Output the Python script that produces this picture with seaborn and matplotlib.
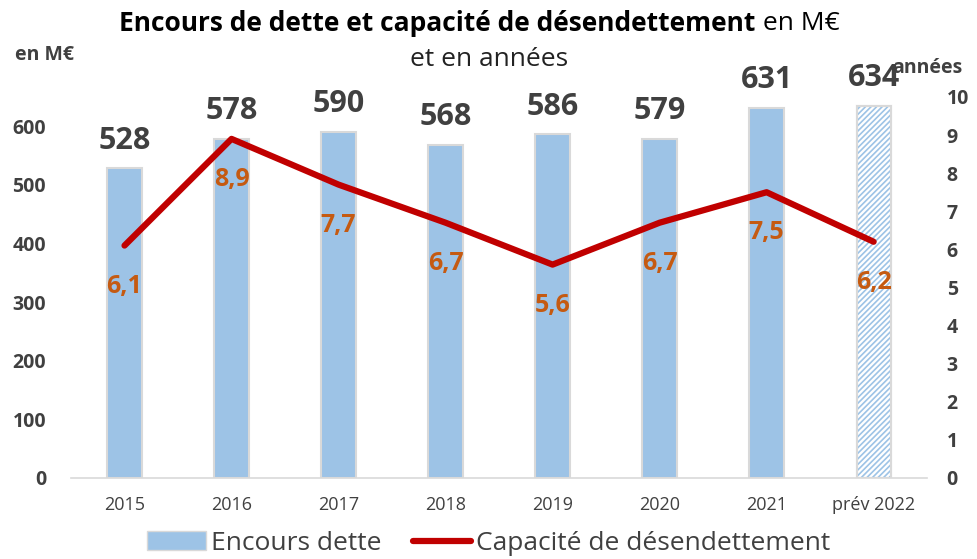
import matplotlib
matplotlib.use("Agg")
import matplotlib.pyplot as plt
import seaborn as sns
import pandas as pd
import numpy as np
from matplotlib.patches import Patch, Rectangle
from matplotlib.lines import Line2D

categories = ["2015", "2016", "2017", "2018", "2019", "2020", "2021", "prév 2022"]
encours = [528, 578, 590, 568, 586, 579, 631, 634]
capacite = [6.1, 8.9, 7.7, 6.7, 5.6, 6.7, 7.5, 6.2]
left_ticks = [0, 100, 200, 300, 400, 500, 600]
right_ticks = list(range(0, 11))

sns.set_theme(style="white")
plt.rcParams['font.family'] = ["Open Sans", 'DejaVu Sans']
plt.rcParams['hatch.linewidth'] = 1.2

df = pd.DataFrame({"cat": categories, "encours": encours, "capacite": capacite})

fig = plt.figure(figsize=(9.78, 5.59), dpi=100)
ax = fig.add_axes([0.0726, 0.145, 0.8754, 0.6815])
sns.barplot(data=df, x="cat", y="encours", color="#9DC3E6", width=0.32,
            edgecolor="#D9D9D9", linewidth=1.5, saturation=1, ax=ax)
last = ax.patches[-1]
last.set_facecolor("white")
hatch = Rectangle(last.get_xy(), last.get_width(), last.get_height(),
                  facecolor="none", edgecolor="#9DC3E6", linewidth=0, hatch="//////", zorder=last.get_zorder() + 0.1)
ax.add_patch(hatch)
border = Rectangle(last.get_xy(), last.get_width(), last.get_height(),
                   facecolor="none", edgecolor="#D9D9D9", linewidth=1.5, zorder=last.get_zorder() + 0.2)
ax.add_patch(border)
ax.set_ylim(0, 650)
ax.set_xlim(-0.5, len(categories) - 0.5)
ax.set_yticks(left_ticks)
ax.set_yticklabels([str(t) for t in left_ticks], fontsize=14, fontweight="bold", color="#404040")
ax.set_xticks(range(len(categories)))
ax.set_xticklabels(categories, fontsize=13, color="#404040")
ax.set_xlabel("")
ax.set_ylabel("")
for s in ["top", "left", "right"]:
    ax.spines[s].set_visible(False)
ax.spines["bottom"].set_color("#D9D9D9")
ax.spines["bottom"].set_linewidth(1.2)
ax.tick_params(axis="x", length=0, pad=13)
ax.tick_params(axis="y", length=0, pad=18)
ax.set_xticks(np.arange(-0.5, len(categories), 1), minor=True)
ax.tick_params(axis="x", which="minor", length=7, color="#D9D9D9", width=1.2, direction="out")

for i, v in enumerate(encours):
    ax.text(i, v + 22, str(v), ha="center", va="bottom", fontsize=22,
            fontweight="bold", color="#404040")

ax2 = ax.twinx()
sns.lineplot(x=list(range(len(categories))), y=capacite, color="#C00000", linewidth=4.5, ax=ax2)
ax2.set_ylim(0, 10)
ax2.set_yticks(right_ticks)
ax2.set_yticklabels([str(t) for t in right_ticks], fontsize=14, fontweight="bold", color="#404040")
ax2.tick_params(axis="y", length=0, pad=14)
for s in ["top", "left", "right", "bottom"]:
    ax2.spines[s].set_visible(False)
ax2.grid(False)
for i, v in enumerate(capacite):
    ax2.text(i, v - 1.07, f"{v:.1f}".replace(".", ","), ha="center", va="center",
             fontsize=18, fontweight="bold", color="#C55A11")

t1 = fig.text(0.122, 0.958, "Encours de dette et capacité de désendettement", ha="left", va="center",
              fontsize=19, fontweight="bold", color="black")
fig.canvas.draw()
bb = t1.get_window_extent()
x_end = bb.x1 / fig.bbox.width
fig.text(x_end, 0.958, " en M€", ha="left", va="center", fontsize=19, color="black")
fig.text(0.5, 0.893, "et en années", ha="center", va="center", fontsize=19, color="#222222")
fig.text(0.015, 0.902, "en M€", ha="left", va="center", fontsize=14, fontweight="bold", color="#404040")
fig.text(0.912, 0.878, "années", ha="left", va="center", fontsize=14, fontweight="bold", color="#404040")

handles = [Patch(facecolor="#9DC3E6", edgecolor="#D9D9D9"),
           Line2D([0], [0], color="#C00000", linewidth=4.5)]
fig.legend(handles, ["Encours dette", "Capacité de désendettement"], loc="center",
           bbox_to_anchor=(0.5, 0.028), ncol=2, frameon=False, fontsize=19,
           handlelength=2.2, handletextpad=0.2, columnspacing=1.2,
           labelcolor="#404040")

fig.savefig("out.png", dpi=100)
